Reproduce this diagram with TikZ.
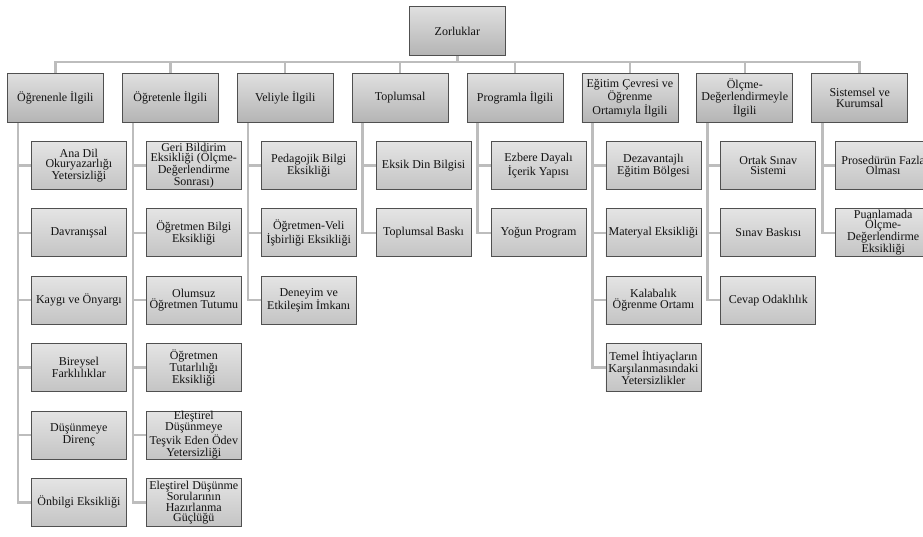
\documentclass[tikz,border=0pt]{standalone}
\usepackage{fontspec}
\setmainfont{Liberation Serif}
\definecolor{linegray}{HTML}{BDBDBD}
\definecolor{boxborder}{HTML}{505050}
\definecolor{ctop}{HTML}{E0E0E0}
\definecolor{cbot}{HTML}{B4B4B4}
\definecolor{ktop}{HTML}{E4E4E4}
\definecolor{kbot}{HTML}{C4C4C4}
\definecolor{txtcol}{HTML}{111111}
\begin{document}
\begin{tikzpicture}[x=1pt,y=-1pt,
  conn/.style={draw=linegray, line width=2.5pt},
  txt/.style={align=center, text=txtcol, inner sep=0pt, font=\fontsize{12}{10.3}\selectfont},
  catbox/.style={draw=boxborder, line width=0.8pt, top color=ctop, bottom color=cbot,
    minimum width=96pt, minimum height=49pt, inner sep=0pt, anchor=north west},
  kidbox/.style={catbox, top color=ktop, bottom color=kbot, minimum width=95pt, minimum height=48pt}
]
\useasboundingbox (0,0) rectangle (923,536);
\clip (0,0) rectangle (923,536);
\coordinate (bus) at (0,62);

% root
\node[catbox, label={[txt]center:Zorluklar}] (root) at (409,6) {};

% categories
\node[catbox, label={[txt]center:Öğrenenle İlgili}] (c1) at (7,73) {};
\node[catbox, label={[txt]center:Öğretenle İlgili}] (c2) at (121.9,73) {};
\node[catbox, label={[txt]center:Veliyle İlgili}] (c3) at (236.8,73) {};
\node[catbox, label={[txt]center:Toplumsal}] (c4) at (351.7,73) {};
\node[catbox, label={[txt]center:Programla İlgili}] (c5) at (466.6,73) {};
\node[catbox, label={[txt]center:{Eğitim Çevresi ve\\Öğrenme\\Ortamıyla İlgili}}] (c6) at (581.5,73) {};
\node[catbox, label={[txt]center:{Ölçme-\\Değerlendirmeyle\\İlgili}}] (c7) at (696.4,73) {};
\node[catbox, label={[txt]center:{Sistemsel ve\\Kurumsal}}] (c8) at (811.3,73) {};

% trunk x positions
\coordinate (t1) at (18,0);
\coordinate (t2) at (132.9,0);
\coordinate (t3) at (247.8,0);
\coordinate (t4) at (362.7,0);
\coordinate (t5) at (477.6,0);
\coordinate (t6) at (592.5,0);
\coordinate (t7) at (707.4,0);
\coordinate (t8) at (822.3,0);

% column 1
\node[kidbox, label={[txt]center:{Ana Dil\\Okuryazarlığı\\Yetersizliği}}] (k11) at (31,141) {};
\node[kidbox, label={[txt]center:Davranışsal}] (k12) at (31,208.4) {};
\node[kidbox, label={[txt]center:Kaygı ve Önyargı}] (k13) at (31,275.8) {};
\node[kidbox, label={[txt]center:{Bireysel\\Farklılıklar}}] (k14) at (31,343.2) {};
\node[kidbox, label={[txt]center:{Düşünmeye\\Direnç}}] (k15) at (31,410.6) {};
\node[kidbox, label={[txt]center:Önbilgi Eksikliği}] (k16) at (31,478) {};

% column 2
\node[kidbox, label={[txt]center:{Geri Bildirim\\Eksikliği (Ölçme-\\Değerlendirme\\Sonrası)}}] (k21) at (145.9,141) {};
\node[kidbox, label={[txt]center:{Öğretmen Bilgi\\Eksikliği}}] (k22) at (145.9,208.4) {};
\node[kidbox, label={[txt]center:{Olumsuz\\Öğretmen Tutumu}}] (k23) at (145.9,275.8) {};
\node[kidbox, label={[txt]center:{Öğretmen\\Tutarlılığı\\Eksikliği}}] (k24) at (145.9,343.2) {};
\node[kidbox, label={[txt]center:{Eleştirel\\Düşünmeye\\Teşvik Eden Ödev\\Yetersizliği}}] (k25) at (145.9,410.6) {};
\node[kidbox, label={[txt]center:{Eleştirel Düşünme\\Sorularının\\Hazırlanma\\Güçlüğü}}] (k26) at (145.9,478) {};

% column 3
\node[kidbox, label={[txt]center:{Pedagojik Bilgi\\Eksikliği}}] (k31) at (260.8,141) {};
\node[kidbox, label={[txt]center:{Öğretmen-Veli\\İşbirliği Eksikliği}}] (k32) at (260.8,208.4) {};
\node[kidbox, label={[txt]center:{Deneyim ve\\Etkileşim İmkanı}}] (k33) at (260.8,275.8) {};

% column 4
\node[kidbox, label={[txt]center:Eksik Din Bilgisi}] (k41) at (375.7,141) {};
\node[kidbox, label={[txt]center:Toplumsal Baskı}] (k42) at (375.7,208.4) {};

% column 5
\node[kidbox, label={[txt]center:{Ezbere Dayalı\\İçerik Yapısı}}] (k51) at (490.6,141) {};
\node[kidbox, label={[txt]center:Yoğun Program}] (k52) at (490.6,208.4) {};

% column 6
\node[kidbox, label={[txt]center:{Dezavantajlı\\Eğitim Bölgesi}}] (k61) at (605.5,141) {};
\node[kidbox, label={[txt]center:Materyal Eksikliği}] (k62) at (605.5,208.4) {};
\node[kidbox, label={[txt]center:{Kalabalık\\Öğrenme Ortamı}}] (k63) at (605.5,275.8) {};
\node[kidbox, label={[txt]center:{Temel İhtiyaçların\\Karşılanmasındaki\\Yetersizlikler}}] (k64) at (605.5,343.2) {};

% column 7
\node[kidbox, label={[txt]center:{Ortak Sınav\\Sistemi}}] (k71) at (720.4,141) {};
\node[kidbox, label={[txt]center:Sınav Baskısı}] (k72) at (720.4,208.4) {};
\node[kidbox, label={[txt]center:Cevap Odaklılık}] (k73) at (720.4,275.8) {};

% column 8
\node[kidbox, label={[txt]center:{Prosedürün Fazla\\Olması}}] (k81) at (835.3,141) {};
\node[kidbox, label={[txt]center:{Puanlamada\\Ölçme-\\Değerlendirme\\Eksikliği}}] (k82) at (835.3,208.4) {};

% connectors: root to categories
\draw[conn] (root.south) -- (root.south |- bus);
\draw[conn] (c1.north) -- (c1.north |- bus) -- (c8.north |- bus) -- (c8.north);
\foreach \c in {c2,c3,c4,c5,c6,c7}{
  \draw[conn] (\c.north) -- (\c.north |- bus);
}

% trunks and branches
\draw[conn] (c1.south -| t1) |- (k16.west);
\foreach \k in {k11,k12,k13,k14,k15}{ \draw[conn] (\k.west -| t1) -- (\k.west); }
\draw[conn] (c2.south -| t2) |- (k26.west);
\foreach \k in {k21,k22,k23,k24,k25}{ \draw[conn] (\k.west -| t2) -- (\k.west); }
\draw[conn] (c3.south -| t3) |- (k33.west);
\foreach \k in {k31,k32}{ \draw[conn] (\k.west -| t3) -- (\k.west); }
\draw[conn] (c4.south -| t4) |- (k42.west);
\draw[conn] (k41.west -| t4) -- (k41.west);
\draw[conn] (c5.south -| t5) |- (k52.west);
\draw[conn] (k51.west -| t5) -- (k51.west);
\draw[conn] (c6.south -| t6) |- (k64.west);
\foreach \k in {k61,k62,k63}{ \draw[conn] (\k.west -| t6) -- (\k.west); }
\draw[conn] (c7.south -| t7) |- (k73.west);
\foreach \k in {k71,k72}{ \draw[conn] (\k.west -| t7) -- (\k.west); }
\draw[conn] (c8.south -| t8) |- (k82.west);
\draw[conn] (k81.west -| t8) -- (k81.west);
\end{tikzpicture}
\end{document}
